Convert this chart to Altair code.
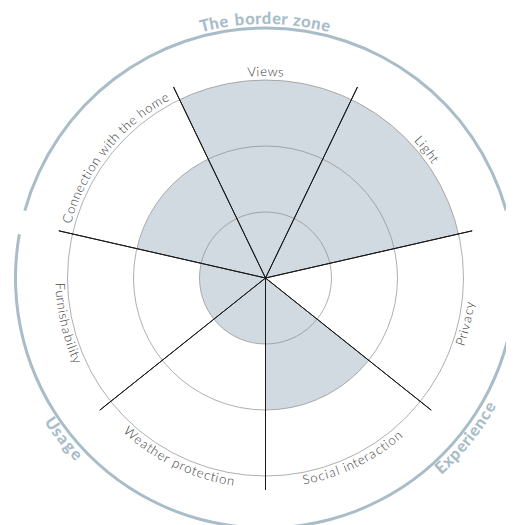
import math
import altair as alt
import pandas as pd

# ---------------- data ----------------
categories = ["Views", "Light", "Privacy", "Social interaction",
              "Weather protection", "Furnishability", "Connection with the home"]
scores = [3, 3, 0, 2, 1, 1, 2]
rings = [1, 2, 3]
group_names = ["The border zone", "Experience", "Usage"]
group_first = [6, 2, 4]      # first sector (clockwise) of each group
group_size = [3, 2, 2]

# ---------------- layout constants ----------------
N = len(categories)
STEP = 360.0 / N
PX = 66.0                    # pixels per score unit
CX, CY = 257.5, 270.0        # centre of the wheel inside the view
SPOKE_R = 212 / PX
DECO_R_OUT = 251.5 / PX
DECO_R_IN = 248.5 / PX
DECO_GAP = 2.8
LABEL_R = 206.0
GROUP_R = 259.0

FILL = "#d1dae1"
DECO = "#a9bdc9"
TXT = "#383838"

THETA = alt.Scale(type="linear", domain=[0, 360], range=[0, 2 * math.pi])
RAD = alt.Scale(type="linear", domain=[0, 3], range=[0, 3 * PX], nice=False, zero=True)

W = {
    'a': .57, 'b': .58, 'c': .5, 'd': .58, 'e': .55, 'f': .3, 'g': .58, 'h': .53,
    'i': .22, 'j': .22, 'k': .5, 'l': .22, 'm': .83, 'n': .53, 'o': .6, 'p': .58,
    'q': .58, 'r': .3, 's': .4, 't': .3, 'u': .53, 'v': .5, 'w': .74, 'x': .47,
    'y': .48, 'z': .42, ' ': .28, 'C': .73, 'E': .55, 'F': .5, 'L': .45, 'P': .55,
    'S': .5, 'T': .5, 'U': .67, 'V': .63, 'W': .9,
}


def arc_chars(text, center_deg, radius_px, size, tracking):
    top = math.cos(math.radians(center_deg)) > 0
    widths = [W.get(c, .55) * size + tracking for c in text]
    total = sum(widths)
    d = 1 if top else -1
    pos = -total / 2
    rows = []
    for c, w in zip(text, widths):
        mid = pos + w / 2
        deg = center_deg + d * math.degrees(mid / radius_px)
        ang = deg if top else deg - 180
        rows.append({"ch": c, "t": deg, "r": radius_px / PX, "ang": ang % 360})
        pos += w
    return rows


# sectors
sec = pd.DataFrame({
    "cat": categories,
    "score": scores,
    "t0": [i * STEP - STEP / 2 for i in range(N)],
    "t1": [i * STEP + STEP / 2 for i in range(N)],
})

ring_df = pd.DataFrame({"ring": rings, "t0": 0.0, "t1": 360.0})

spokes = pd.DataFrame({
    "t0": [i * STEP - STEP / 2 for i in range(N)],
    "t1": [i * STEP - STEP / 2 + 0.001 for i in range(N)],
    "r": SPOKE_R,
})

deco = pd.DataFrame({
    "g": group_names,
    "t0": [f * STEP - STEP / 2 + DECO_GAP for f in group_first],
    "t1": [(f + s) * STEP - STEP / 2 - DECO_GAP for f, s in zip(group_first, group_size)],
    "r0": DECO_R_IN,
    "r1": DECO_R_OUT,
})

lab_rows = []
for i, c in enumerate(categories):
    lab_rows += arc_chars(c, i * STEP, LABEL_R, 13, 0.7)
lab = pd.DataFrame(lab_rows)

grp_rows = []
for g, f, s in zip(group_names, group_first, group_size):
    center = (f + (s - 1) / 2) * STEP
    grp_rows += arc_chars(g, center, GROUP_R, 16.5, 0.9)
grp = pd.DataFrame(grp_rows)

XY = dict(x=alt.value(CX), y=alt.value(CY))

fill_layer = alt.Chart(sec).mark_arc(color=FILL, strokeWidth=0).encode(
    theta=alt.Theta("t0:Q", scale=THETA, stack=None),
    theta2="t1:Q",
    radius=alt.Radius("score:Q", scale=RAD),
    **XY,
)

ring_layer = alt.Chart(ring_df).mark_arc(fillOpacity=0, stroke="#8c8c8c", strokeWidth=0.7).encode(
    theta=alt.Theta("t0:Q", scale=THETA, stack=None),
    theta2="t1:Q",
    radius=alt.Radius("ring:Q", scale=RAD),
    **XY,
)

spoke_layer = alt.Chart(spokes).mark_arc(fillOpacity=0, stroke="#1a1a1a", strokeWidth=1).encode(
    theta=alt.Theta("t0:Q", scale=THETA, stack=None),
    theta2="t1:Q",
    radius=alt.Radius("r:Q", scale=RAD),
    **XY,
)

deco_layer = alt.Chart(deco).mark_arc(color=DECO, strokeWidth=0).encode(
    theta=alt.Theta("t0:Q", scale=THETA, stack=None),
    theta2="t1:Q",
    radius=alt.Radius("r1:Q", scale=RAD),
    radius2="r0:Q",
    **XY,
)

label_layer = alt.Chart(lab).mark_text(
    font="Lato", fontSize=13, fontWeight=300, color=TXT, baseline="middle", align="center"
).encode(
    theta=alt.Theta("t:Q", scale=THETA, stack=None),
    radius=alt.Radius("r:Q", scale=RAD),
    angle=alt.Angle("ang:Q", scale=None),
    text="ch:N",
    **XY,
)

group_layer = alt.Chart(grp).mark_text(
    font="Lato", fontSize=16.5, fontWeight=900, color=DECO, baseline="middle", align="center"
).encode(
    theta=alt.Theta("t:Q", scale=THETA, stack=None),
    radius=alt.Radius("r:Q", scale=RAD),
    angle=alt.Angle("ang:Q", scale=None),
    text="ch:N",
    **XY,
)

chart = alt.layer(
    fill_layer, ring_layer, spoke_layer, deco_layer, label_layer, group_layer
).properties(
    width=498, height=517, autosize="none", padding=0
).configure_view(strokeWidth=0)

chart.save("out.html", embed_options={"renderer": "svg", "actions": False})
